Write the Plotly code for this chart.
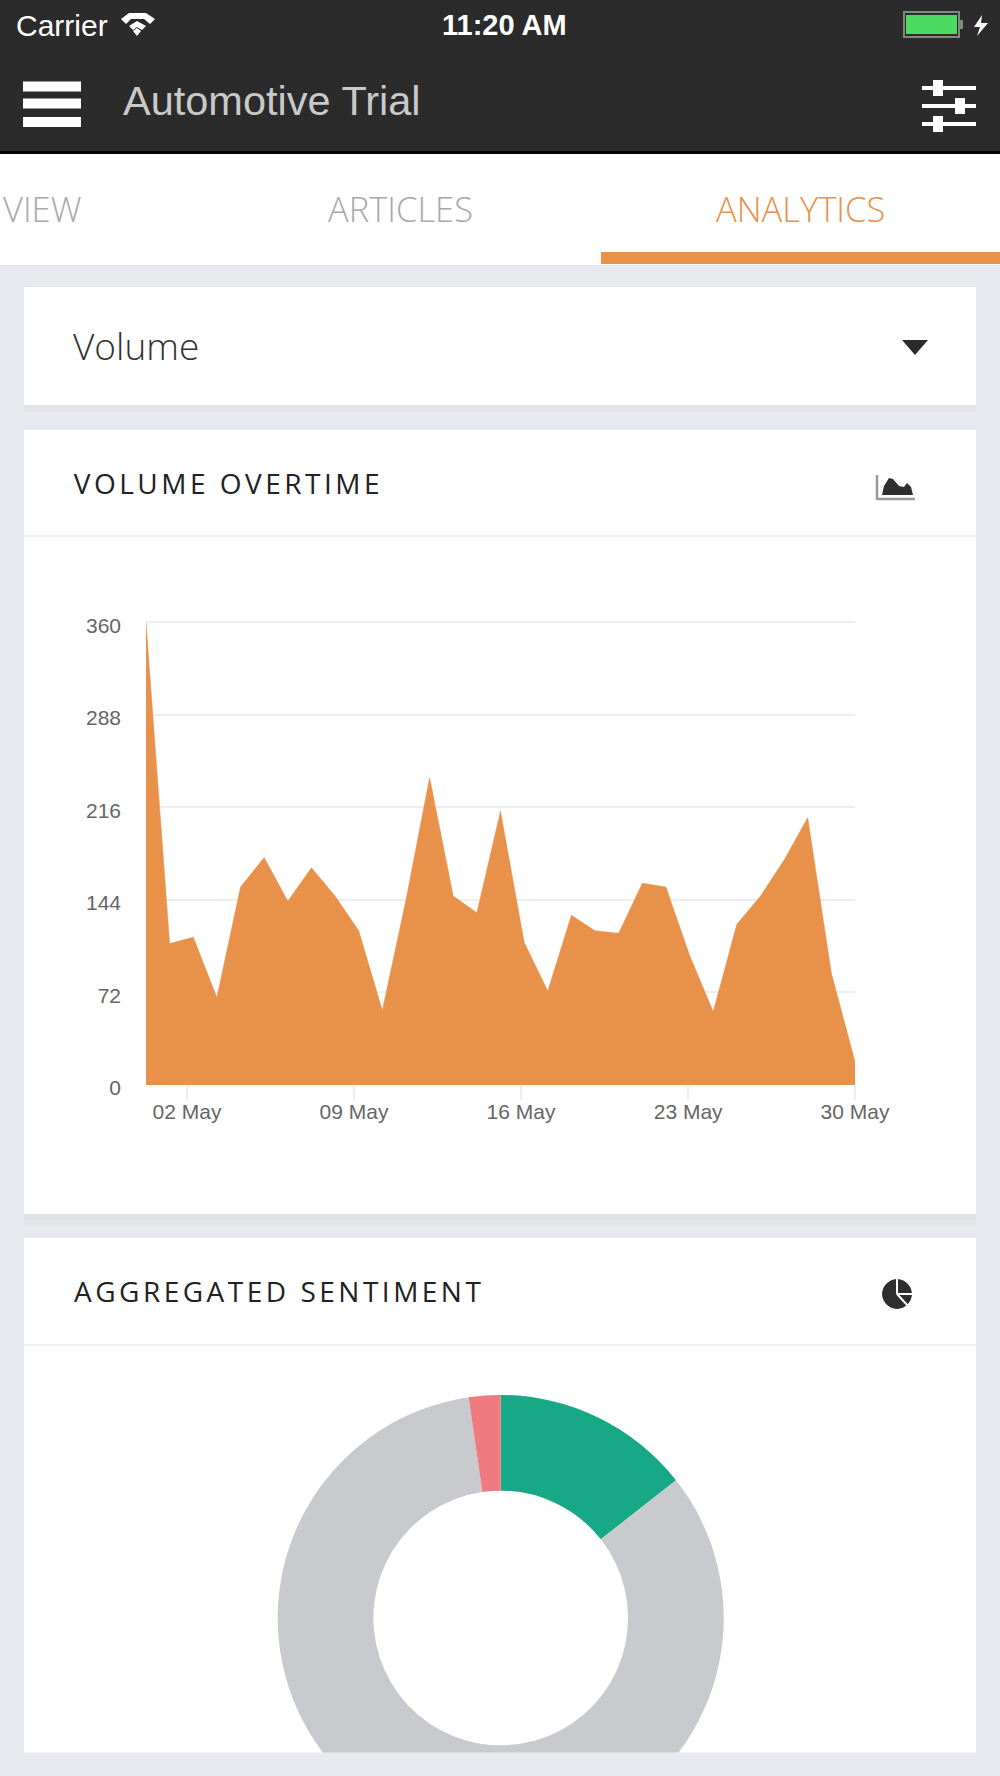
import plotly.graph_objects as go

# volume overtime (one value per point)
volume = [360, 110, 115, 68, 154, 177, 143, 169, 147, 120, 58, 144, 239, 147, 134, 213,
          111, 73, 132, 120, 118, 157, 154, 101, 57, 125, 147, 175, 208, 87, 18]
point_index = list(range(len(volume)))
y_ticks = [0, 72, 144, 216, 288, 360]
x_tick_labels = ["02 May", "09 May", "16 May", "23 May", "30 May"]
x_tick_index = [1.735, 8.80, 15.87, 22.94, 30]

sentiment_labels = ["Positive", "Neutral", "Negative"]
sentiment_values = [14.4, 83.3, 2.3]
sentiment_colors = ["#17a886", "#c8cacd", "#ef7a7f"]

W = 1000
H = 1866  # taller than the window, the donut runs past the bottom of the page
BG = "#e8e9ef"
DARK = "#2b2b2b"
ORANGE = "#e8914a"
TEXT_FONT = "Open Sans"
SYS_FONT = "Liberation Sans"


def px(x):
    return x / W


def py(y):
    return 1 - y / H


def rect(x0, y0, x1, y1, color, layer="below"):
    return dict(type="rect", xref="paper", yref="paper", x0=px(x0), x1=px(x1), y0=py(y0), y1=py(y1),
                fillcolor=color, line_width=0, layer=layer)


def line(x0, y0, x1, y1, color, width):
    return dict(type="line", xref="paper", yref="paper", x0=px(x0), x1=px(x1), y0=py(y0), y1=py(y1),
                line=dict(color=color, width=width), layer="above")


def poly(points, color):
    d = "M" + " L".join("{:.5f},{:.5f}".format(px(a), py(b)) for a, b in points) + " Z"
    return dict(type="path", xref="paper", yref="paper", path=d, fillcolor=color, line_width=0, layer="above")


def circle(cx, cy, r, color, border=None):
    return dict(type="circle", xref="paper", yref="paper", x0=px(cx - r), x1=px(cx + r), y0=py(cy + r), y1=py(cy - r),
                fillcolor=color, line=dict(color=border or color, width=1), layer="above")


def label(x, y, text, size, color, anchor="left", font=TEXT_FONT, weight=400):
    return dict(xref="paper", yref="paper", x=px(x), y=py(y), text=text, showarrow=False, xanchor=anchor, yanchor="middle",
                font=dict(family=font, size=size, color=color, weight=weight))


shapes = [
    # header and tabs
    rect(0, 0, W, 151, DARK),
    rect(0, 151, W, 154, "#050505"),
    rect(0, 154, W, 265, "#ffffff"),
    rect(601, 252, W, 264, ORANGE),
    # cards with their soft shadow
    rect(24, 405, 976, 412, "#e3e4e8"),
    rect(24, 287, 976, 405, "#ffffff"),
    rect(24, 1214, 976, 1226, "#e5e6ea"),
    rect(24, 1214, 976, 1220, "#e1e2e6"),
    rect(24, 430, 976, 1214, "#ffffff"),
    rect(24, 535, 976, 537, "#f1f2f4"),
    rect(24, 1238, 976, 1753, "#ffffff"),
    rect(24, 1344, 976, 1346, "#f1f2f4"),
    # hides the part of the donut under the card edge
    rect(0, 1752.6, W, H, BG, layer="above"),
]

# hamburger
for y in (86.5, 103.5, 122):
    shapes.append(line(23, y, 81, y, "#ffffff", 10))
# filter sliders
for y, knob in ((88, 938), (106, 960), (124, 938)):
    shapes.append(line(922, y, 976, y, "#ffffff", 4))
    shapes.append(rect(knob - 5, y - 8, knob + 5, y + 8, "#ffffff", layer="above"))

# wifi, battery, bolt
shapes.append(poly([(121, 19), (129, 13), (146, 13), (155, 19), (150, 24), (144, 19), (131, 19), (126, 24)], "#ffffff"))
shapes.append(poly([(129, 26), (137, 21), (146, 26), (142, 30), (137, 27), (133, 30)], "#ffffff"))
shapes.append(poly([(133, 31), (137, 28), (141, 31), (137, 36)], "#ffffff"))
shapes.append(rect(903, 11, 960, 38, "#7d8a7e", layer="above"))
shapes.append(rect(905, 13, 958, 36, DARK, layer="above"))
shapes.append(rect(906, 15, 957, 34, "#4cd964", layer="above"))
shapes.append(rect(960, 20, 963, 29, "#7d8a7e", layer="above"))
shapes.append(poly([(982, 15), (974, 27), (980, 27), (977, 36), (988, 23), (981, 23)], "#ffffff"))

# dropdown arrow
shapes.append(poly([(902, 340), (928, 340), (915, 355)], "#2a2a2a"))

# area chart icon
shapes.append(line(877, 475, 877, 500, "#9a9a9a", 2.5))
shapes.append(line(877, 499, 915, 499, "#9a9a9a", 2.5))
shapes.append(poly([(882, 495), (884, 486), (889, 478), (893, 479), (899, 486), (904, 487), (907, 483),
                    (911, 487), (913, 495)], "#2e2e2e"))

# pie icon
shapes.append(circle(897, 1294, 14.5, "#2e2e2e"))
shapes.append(line(897, 1278, 897, 1294, "#ffffff", 2))
shapes.append(line(897, 1294, 913, 1294, "#ffffff", 2))
shapes.append(line(897, 1294, 908, 1306, "#ffffff", 2))

# the two card titles are moved right by half of the letter spacing added at the bottom
annotations = [
    label(14, 25, "Carrier", 30, "#ffffff", font=SYS_FONT),
    label(504, 25, "11:20 AM", 29, "#ffffff", anchor="center", font=SYS_FONT, weight=700),
    label(121, 100, "Automotive Trial", 41.5, "#c9c9c9", font=SYS_FONT),
    label(83, 209, "VIEW", 34.5, "#a9a9a9", anchor="right", weight=300),
    label(400, 209, "ARTICLES", 34.5, "#a9a9a9", anchor="center", weight=300),
    label(800, 209, "ANALYTICS", 34.5, ORANGE, anchor="center", weight=300),
    label(71, 346, "Volume", 37, "#333333", weight=300),
    label(98, 483, "VOLUME OVERTIME", 28, "#222222"),
    label(107, 1291, "AGGREGATED SENTIMENT", 28, "#222222"),
]

fig = go.Figure()
fig.add_trace(go.Scatter(x=point_index, y=volume, mode="lines", fill="tozeroy", fillcolor=ORANGE,
                         line=dict(color=ORANGE, width=0.5), showlegend=False, hoverinfo="skip"))
fig.add_trace(go.Pie(labels=sentiment_labels, values=sentiment_values, hole=0.571, sort=False, direction="clockwise",
                     rotation=0, marker=dict(colors=sentiment_colors, line=dict(width=0)), textinfo="none",
                     showlegend=False, hoverinfo="skip",
                     domain=dict(x=[px(277.7), px(723.7)], y=[py(1841), py(1395)])))

fig.update_layout(width=W, height=H, margin=dict(l=0, r=0, t=0, b=0, autoexpand=False), paper_bgcolor=BG,
                  plot_bgcolor="rgba(0,0,0,0)", shapes=shapes, annotations=annotations)
fig.update_xaxes(domain=[px(146), px(855)], range=[0, 30], showgrid=False, zeroline=False, showline=False,
                 tickmode="array", tickvals=x_tick_index, ticktext=x_tick_labels, ticks="outside", ticklen=14,
                 tickcolor="#eeeeee", tickwidth=2, ticklabelstandoff=-6,
                 tickfont=dict(family=SYS_FONT, size=21, color="#666666"))
# range runs just past 360, plotly leaves out a grid line sitting on the very end of the axis
fig.update_yaxes(domain=[py(1084.9), py(621.1)], range=[0, 361], showgrid=True, gridcolor="#eeeeee", gridwidth=2,
                 zeroline=False, showline=False, tickmode="array", tickvals=y_ticks, ticks="",
                 ticklabelstandoff=24, ticklabelshift=3,
                 tickfont=dict(family=SYS_FONT, size=21, color="#666666"))

# page without body margin or scrollbars, and the wide spacing of the two card titles
page_fix = """
document.documentElement.style.overflow = 'hidden';
document.body.style.overflow = 'hidden';
document.body.style.margin = '0';
document.querySelectorAll('.annotation-text').forEach(function (t) {
  var s = t.textContent;
  if (s === 'VOLUME OVERTIME' || s === 'AGGREGATED SENTIMENT') { t.style.letterSpacing = '3.5px'; }
});
"""
fig.write_html("out.html", post_script=page_fix, config=dict(displayModeBar=False))
